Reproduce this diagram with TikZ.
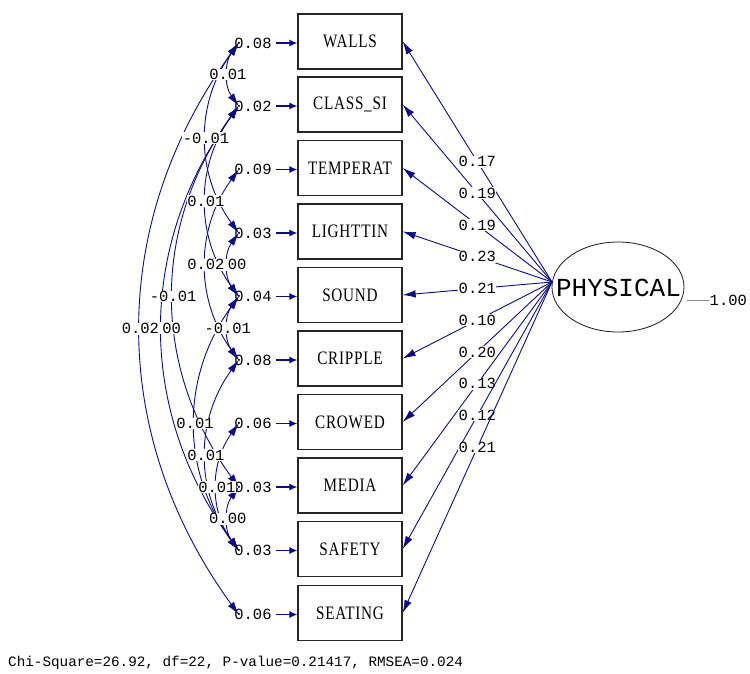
\documentclass[tikz,border=0pt]{standalone}
\usepackage{fontspec}
\usetikzlibrary{shapes.geometric,arrows.meta}
\newfontfamily\lmono{Liberation Mono}
\newfontfamily\boxfont[FakeStretch=0.8,LetterSpace=4]{Liberation Serif}
\definecolor{lnavy}{RGB}{12,12,135}
\tikzset{
 var/.style={draw=black!85, line width=1.3pt, minimum width=104pt, minimum height=55pt, inner sep=0pt, font=\boxfont\fontsize{19}{19}\selectfont},
 num/.style={font=\lmono\fontsize{15.5}{16}\selectfont, inner sep=0.5pt, text=black},
 numw/.style={num, fill=white},
 load/.style={draw=lnavy, line width=0.9pt, -{Latex[length=13pt,width=7.5pt]}},
 cov/.style={draw=lnavy, line width=0.9pt, {Latex[length=13pt,width=7.5pt]}-{Latex[length=13pt,width=7.5pt]}},
 err/.style={draw=lnavy, line width=1.2pt, -{Latex[length=8pt,width=7pt]}},
}
\begin{document}
\begin{tikzpicture}[x=1pt,y=-1pt]
\useasboundingbox (0,0) rectangle (750,673);
% latent variable
\node[ellipse, draw=black!90, line width=0.8pt, minimum width=132pt, minimum height=90pt, inner sep=0pt] (phys) at (618,287) {};
\node[font=\lmono\fontsize{26}{26}\selectfont, inner sep=0pt, text=black] (physt) at (618.5,288) {PHYSICAL};
\coordinate (ps) at (552,282);
\node[num, anchor=west] (one) at (709,300) {1.00};
\draw[black!45, line width=0.7pt] ([xshift=3pt]phys.east |- one.west) -- (one.west);
% observed variables, error variances, loadings
\foreach \i/\y/\t/\e/\l in {1/41.5/WALLS/0.08/0.17, 2/104.5/CLASS\_SI/0.02/0.19, 3/168/TEMPERAT/0.09/0.19, 4/231.5/LIGHTTIN/0.03/0.23, 5/295/SOUND/0.04/0.21, 6/358.5/CRIPPLE/0.08/0.10, 7/422/CROWED/0.06/0.20, 8/485.5/MEDIA/0.03/0.13, 9/549/SAFETY/0.03/0.12, 10/613/SEATING/0.06/0.21}{
  \node[var] (b\i) at (350,\y) {\t};
  \node[num] (e\i) at (253,\y+1.5) {\e};
  \draw[err] ([xshift=4pt]e\i.east) -- (e\i.east -| b\i.west);
  \draw[load] (ps) -- node[numw, pos=0.5] (l\i) {\l} (b\i.east);
}
% covariances between error terms
\foreach \a/\b in {1/2, 1/4, 2/5, 4/5, 3/6, 2/8, 5/6, 2/9, 1/10, 5/9, 6/9, 7/9, 8/9}{
  \draw[cov] ([xshift=5pt]e\a.west) to[bend right=36] ([xshift=5pt]e\b.west);
}
\foreach \a/\b/\v in {1/2/0.01, 1/4/-0.01, 2/5/0.01, 4/5/0.00, 3/6/0.02, 2/8/-0.01, 5/6/-0.01, 2/9/0.00, 1/10/0.02, 5/9/0.01, 6/9/0.01, 7/9/0.01, 8/9/0.00}{
  \path ([xshift=5pt]e\a.west) to[bend right=36] node[numw, pos=0.5] (c\a-\b) {\v} ([xshift=5pt]e\b.west);
}
\node[font=\lmono\fontsize{14.3}{15}\selectfont, anchor=west, inner sep=0pt, text=black] (fit) at (8,663) {Chi-Square=26.92, df=22, P-value=0.21417, RMSEA=0.024};
\end{tikzpicture}
\end{document}
